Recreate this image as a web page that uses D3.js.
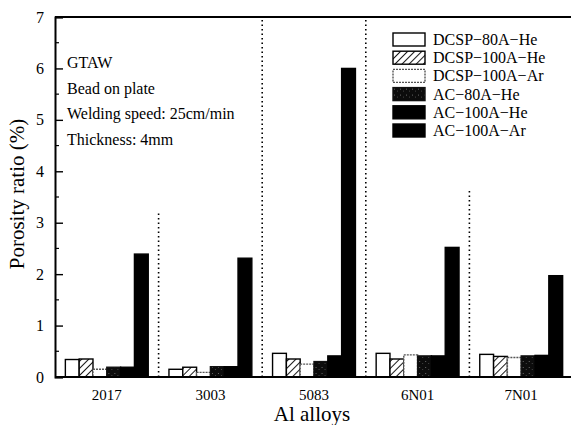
<!DOCTYPE html>
<html>
<head>
<meta charset="utf-8">
<script src="https://cdn.jsdelivr.net/npm/d3@7"></script>
<style>
  body { margin: 0; background: #fff; }
  text { font-family: "Liberation Serif", "DejaVu Serif", serif; fill: #000; }
</style>
</head>
<body>
<script>
var alloys = ["2017", "3003", "5083", "6N01", "7N01"];
var series = ["DCSP\u221280A\u2212He", "DCSP\u2212100A\u2212He", "DCSP\u2212100A\u2212Ar",
              "AC\u221280A\u2212He", "AC\u2212100A\u2212He", "AC\u2212100A\u2212Ar"];
// one row per alloy, one value per series (%)
var porosity = [
  [0.34, 0.35, 0.15, 0.19, 0.19, 2.39],
  [0.15, 0.19, 0.09, 0.20, 0.20, 2.31],
  [0.46, 0.35, 0.25, 0.30, 0.41, 6.00],
  [0.46, 0.35, 0.43, 0.41, 0.41, 2.52],
  [0.44, 0.40, 0.38, 0.41, 0.42, 1.97]
];
var yTicks = [0, 1, 2, 3, 4, 5, 6, 7];
var notes = ["GTAW", "Bead on plate", "Welding speed: 25cm/min", "Thickness: 4mm"];
// how high the dotted separators between groups reach (in %)
var sepTops = [3.2, 7, 7, 3.64];

var w = 571, h = 425;
var pl = 55, pr = 573, pt = 17, pb = 377;

var svg = d3.select("body").append("svg")
    .attr("width", w)
    .attr("height", h);

var defs = svg.append("defs");
var hatch = defs.append("pattern")
    .attr("id", "hatch")
    .attr("patternUnits", "userSpaceOnUse")
    .attr("width", 5).attr("height", 5)
    .attr("patternTransform", "rotate(45)");
hatch.append("rect").attr("width", 5).attr("height", 5).attr("fill", "#fff");
hatch.append("line").attr("x1", 0).attr("y1", 0).attr("x2", 0).attr("y2", 5)
    .attr("stroke", "#000").attr("stroke-width", 1.8);

var speck = defs.append("pattern")
    .attr("id", "speck")
    .attr("patternUnits", "userSpaceOnUse")
    .attr("width", 6).attr("height", 6);
speck.append("rect").attr("width", 6).attr("height", 6).attr("fill", "#0c0c0c");
speck.append("rect").attr("x", 1).attr("y", 1).attr("width", 1).attr("height", 1).attr("fill", "#666");
speck.append("rect").attr("x", 4).attr("y", 3).attr("width", 1).attr("height", 1).attr("fill", "#444");

var fills = ["#fff", "url(#hatch)", "#fff", "url(#speck)", "#000", "#000"];
var strokes = ["#000", "#000", "#555", "#111", "#000", "#000"];
var dashes = [null, null, "2,1", null, null, null];

var x = d3.scaleBand().domain(alloys).range([pl, pr])
    .paddingInner(0.2).paddingOuter(0.1);
var xs = d3.scaleBand().domain(series).range([0, x.bandwidth()]);
var y = d3.scaleLinear().domain([0, 7]).range([pb, pt]);

// dotted separators
svg.selectAll(".sep")
    .data(sepTops)
  .enter().append("line")
    .attr("x1", function(d, i) { return x(alloys[i + 1]) - x.step() * x.paddingInner() / 2; })
    .attr("x2", function(d, i) { return x(alloys[i + 1]) - x.step() * x.paddingInner() / 2; })
    .attr("y1", y(0))
    .attr("y2", function(d) { return y(d); })
    .attr("stroke", "#000")
    .attr("stroke-width", 1.6)
    .attr("stroke-dasharray", "1.5,3");

// bars
var groups = svg.selectAll(".grp")
    .data(porosity)
  .enter().append("g")
    .attr("transform", function(d, i) { return "translate(" + x(alloys[i]) + ",0)"; });

groups.selectAll("rect")
    .data(function(d) { return d; })
  .enter().append("rect")
    .attr("x", function(d, j) { return xs(series[j]); })
    .attr("y", function(d) { return y(d); })
    .attr("width", xs.bandwidth())
    .attr("height", function(d) { return y(0) - y(d); })
    .attr("fill", function(d, j) { return fills[j]; })
    .attr("stroke", function(d, j) { return strokes[j]; })
    .attr("stroke-width", 1.4)
    .attr("stroke-dasharray", function(d, j) { return dashes[j]; });

// axes
var yAxis = d3.axisLeft(y).tickValues(yTicks).tickFormat(d3.format("d"))
    .tickSize(-8).tickPadding(11);
var gy = svg.append("g").attr("transform", "translate(" + pl + ",0)").call(yAxis);
gy.select(".domain").attr("stroke-width", 2);
gy.selectAll(".tick line").attr("stroke-width", 1.4);
gy.selectAll("text").style("font-size", "16px").style("font-family", "Liberation Serif");

var minor = d3.range(0.5, 7, 1);
svg.selectAll(".minor")
    .data(minor)
  .enter().append("line")
    .attr("x1", pl).attr("x2", pl + 4)
    .attr("y1", function(d) { return y(d); })
    .attr("y2", function(d) { return y(d); })
    .attr("stroke", "#000").attr("stroke-width", 1.2);

var xAxis = d3.axisBottom(x).tickSize(0).tickPadding(12);
var gx = svg.append("g").attr("transform", "translate(0," + pb + ")").call(xAxis);
gx.select(".domain").attr("stroke-width", 2).attr("d", "M" + pl + ",0H" + pr);
gx.selectAll("text").style("font-size", "15px").style("font-family", "Liberation Serif");

svg.append("line")
    .attr("x1", pl).attr("x2", pr)
    .attr("y1", pt).attr("y2", pt)
    .attr("stroke", "#000").attr("stroke-width", 2);

// axis titles
svg.append("text")
    .attr("transform", "translate(24,194)rotate(-90)")
    .attr("text-anchor", "middle")
    .style("font-size", "21px")
    .text("Porosity ratio (%)");

svg.append("text")
    .attr("x", 312)
    .attr("y", 421)
    .attr("text-anchor", "middle")
    .style("font-size", "21px")
    .text("Al alloys");

// notes
svg.selectAll(".note")
    .data(notes)
  .enter().append("text")
    .attr("x", 67)
    .attr("y", function(d, i) { return 68 + i * 25.5; })
    .style("font-size", "16px")
    .text(function(d) { return d; });

// legend
var lg = svg.selectAll(".leg")
    .data(series)
  .enter().append("g")
    .attr("transform", function(d, i) { return "translate(393," + (33 + i * 18.2) + ")"; });

lg.append("rect")
    .attr("width", 32).attr("height", 13)
    .attr("fill", function(d, j) { return fills[j]; })
    .attr("stroke", function(d, j) { return strokes[j]; })
    .attr("stroke-width", 1.4)
    .attr("stroke-dasharray", function(d, j) { return dashes[j]; });

lg.append("text")
    .attr("x", 40)
    .attr("y", 12)
    .style("font-size", "16px")
    .text(function(d) { return d; });
</script>
</body>
</html>
